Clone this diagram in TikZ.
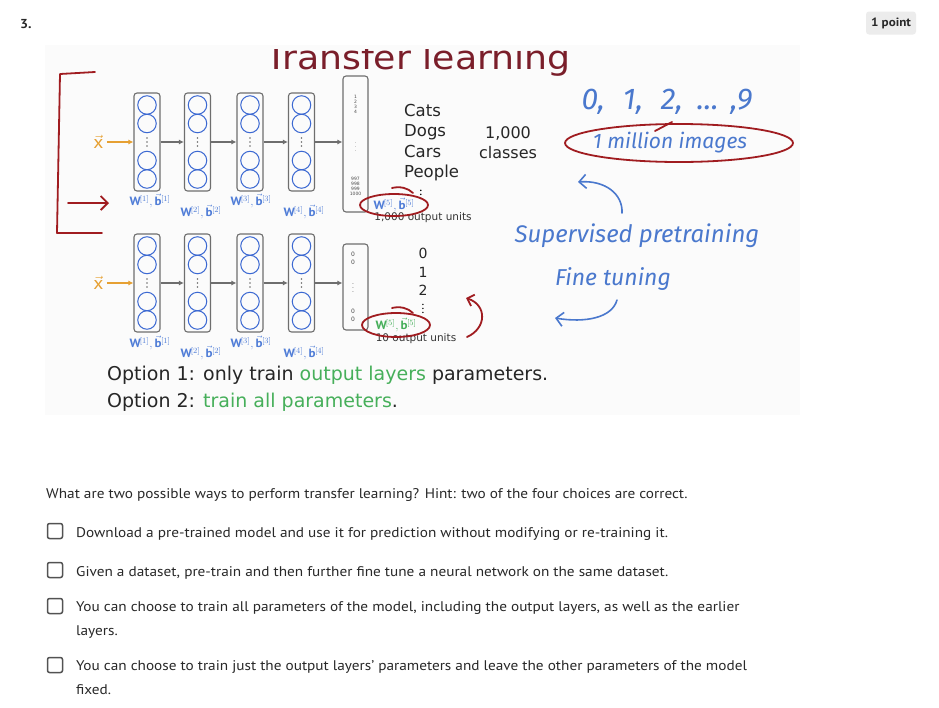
\documentclass[tikz,border=0pt]{standalone}
\usepackage{fontspec}
\setmainfont[FakeStretch=1.09]{PT Sans}
\newfontfamily\slidefont{DejaVu Sans}
\newfontfamily\titlefont[FakeStretch=1.1]{DejaVu Sans}
\newfontfamily\handfont{Fira Sans}
\usetikzlibrary{arrows.meta,positioning}

\definecolor{inkred}{RGB}{160,28,32}
\definecolor{titlered}{RGB}{122,30,42}
\definecolor{handblue}{RGB}{74,120,205}
\definecolor{wblue}{RGB}{80,125,215}
\definecolor{nodeblue}{RGB}{60,105,210}
\definecolor{xorange}{RGB}{230,160,50}
\definecolor{slidegreen}{RGB}{70,175,90}
\definecolor{boxgray}{RGB}{110,110,110}
\definecolor{slidebg}{RGB}{251,251,251}
\definecolor{quizgray}{RGB}{40,40,40}

\tikzset{
  layer/.style={draw=boxgray, line width=1.1pt, rounded corners=3pt, minimum width=26pt, minimum height=98pt, inner sep=0pt},
  outbox/.style={draw=boxgray, line width=1.1pt, rounded corners=3pt, minimum width=25pt, inner sep=0pt},
  neuron/.style={draw=nodeblue, line width=1pt, circle, minimum size=18.5pt, inner sep=0pt},
  wlabel/.style={text=wblue, font=\fontsize{12}{13}\selectfont, inner sep=0pt},
  tinynum/.style={font=\slidefont\fontsize{4.5}{5}\selectfont, align=center, text=black!70, inner sep=0pt},
  ink/.style={draw=inkred, line width=1.8pt, line cap=round, line join=round},
  handarrow/.style={draw=handblue, line width=1.6pt, line cap=round, -{Straight Barb[length=7pt,width=14pt]}},
  flow/.style={-{Latex[length=5pt,width=5pt]}, line width=1.3pt, draw=boxgray},
  xflow/.style={-{Latex[length=5pt,width=5pt]}, line width=1.5pt, draw=xorange},
  handtext/.style={text=handblue, font=\handfont\itshape\fontsize{#1}{#1}\selectfont, inner sep=0pt},
  checkbox/.style={draw=quizgray!80, line width=1.5pt, rounded corners=2pt, minimum size=15pt, inner sep=0pt},
  answer/.style={anchor=north west, font=\fontsize{14}{24.5}\selectfont, text=quizgray, align=left, inner sep=0pt}
}

\begin{document}
\begin{tikzpicture}[x=1pt, y=-1pt]
\useasboundingbox (0,0) rectangle (939,707);
\fill[white] (0,0) rectangle (939,707);

\node[anchor=base west, font=\bfseries\fontsize{13}{13}\selectfont, text=quizgray, inner sep=0pt] (qnum) at (20,28) {3.};
\node[fill=gray!15, rounded corners=3pt, minimum width=50pt, minimum height=23pt, inner sep=0pt,
      font=\bfseries\fontsize{12}{12}\selectfont, text=quizgray] (pts) at (891,23) {1 point};

% slide picture
\fill[slidebg] (45,45) rectangle (800,415);
\begin{scope}
\clip (45,49) rectangle (800,415);
\node[anchor=base, text=titlered, font=\titlefont\fontsize{33}{33}\selectfont, inner sep=0pt] (title) at (418,69) {Transfer learning};
\end{scope}

% two networks
\foreach \r/\y/\yo/\ho in {t/142/144/136, b/283/287/86} {
  \foreach \n/\x in {1/147,2/197.5,3/250,4/301.5} {
    \node[layer] (\r\n) at (\x,\y) {};
    \foreach \k/\dy in {1/-37,2/-18.5,3/18.5,4/37}
      \node[neuron] (\r\n c\k) at (\x,\y+\dy) {};
    \foreach \d in {-4,0,4}
      \fill[boxgray] (\x,\y+\d) circle (0.8);
  }
  \node[outbox, minimum height=\ho pt] (\r5) at (355.5,\yo) {};
  \node[text=xorange, font=\fontsize{18}{18}\selectfont, inner sep=0pt] (\r x) at (98,\y) {$\vec{\mathrm{x}}$};
  \draw[xflow] (\r x.east) ++(4,0) -- (\r1.west);
  \draw[flow] (\r1.east) -- (\r2.west);
  \draw[flow] (\r2.east) -- (\r3.west);
  \draw[flow] (\r3.east) -- (\r4.west);
  \draw[flow] (\r4.east) -- (\r5.west |- \r4.east);
}

% output units
\node[tinynum] (t5a) at (355.5,104) {1\\2\\3\\4};
\node[tinynum] (t5b) at (355.5,144) {$\vdots$};
\node[tinynum] (t5c) at (355.5,186) {997\\998\\999\\1000};
\node[tinynum, font=\slidefont\fontsize{6}{8}\selectfont] (b5a) at (353,258) {0\\0};
\node[tinynum, font=\slidefont\fontsize{6}{8}\selectfont] (b5b) at (353,285) {$\vdots$};
\node[tinynum, font=\slidefont\fontsize{6}{8}\selectfont] (b5c) at (353,315) {0\\0};

% parameter labels
\foreach \r/\ya/\yb in {t/201/212, b/343/353} {
  \node[wlabel] (\r w1) at (150,\ya) {$\mathbf{W}^{[1]},\vec{\mathbf{b}}^{[1]}$};
  \node[wlabel] (\r w2) at (201,\yb) {$\mathbf{W}^{[2]},\vec{\mathbf{b}}^{[2]}$};
  \node[wlabel] (\r w3) at (251,\ya) {$\mathbf{W}^{[3]},\vec{\mathbf{b}}^{[3]}$};
  \node[wlabel] (\r w4) at (304,\yb) {$\mathbf{W}^{[4]},\vec{\mathbf{b}}^{[4]}$};
}
\node[wlabel] (tw5) at (394,205) {$\mathbf{W}^{[5]},\vec{\mathbf{b}}^{[5]}$};
\node[wlabel, text=slidegreen] (bw5) at (396,325) {$\mathbf{W}^{[5]},\vec{\mathbf{b}}^{[5]}$};

\node[font=\slidefont\fontsize{10.5}{10.5}\selectfont, text=black!80, inner sep=0pt] (tunits) at (423,218) {1,000 output units};
\node[font=\slidefont\fontsize{10.5}{10.5}\selectfont, text=black!80, inner sep=0pt] (bunits) at (416,339) {10 output units};

% classes
\node[anchor=north west, align=left, font=\slidefont\fontsize{16.5}{20.5}\selectfont, text=black!85, inner sep=0pt] (cls) at (404,104) {Cats\\Dogs\\Cars\\People};
\node[font=\fontsize{13}{13}\selectfont, inner sep=0pt] (clsdots) at (421,192) {$\vdots$};
\node[align=center, font=\slidefont\fontsize{16}{20}\selectfont, text=black!85, inner sep=0pt] (ncls) at (508,143) {1,000\\classes};
\node[align=center, font=\slidefont\fontsize{14}{18.5}\selectfont, text=black!85, inner sep=0pt] (digits) at (423,272) {0\\1\\2};
\node[font=\fontsize{12}{12}\selectfont, inner sep=0pt] (digdots) at (423,306) {$\vdots$};

% handwriting
\node[handtext=30] (range) at (667,102) {0,\hspace{18pt}1,\hspace{18pt}2,\hspace{14pt}...\hspace{12pt},9};
\node[handtext=21] (million) at (670,143) {1 million images};
\node[handtext=24] (sup) at (637,236) {Supervised pretraining};
\node[handtext=23] (fine) at (613,279) {Fine tuning};

\coordinate (a1s) at (622,213);
\coordinate (a1e) at (578,182);
\coordinate (a2s) at (617,300);
\coordinate (a2e) at (555,318);
\draw[handarrow] (a1s) .. controls (623,194) and (605,180) .. (a1e);
\draw[handarrow] (a2s) .. controls (612,318) and (585,323) .. (a2e);

% red ink
\draw[ink] (95,72) -- (60,74) -- (57,233) -- (102,233);
\coordinate (r1s) at (68,203);
\coordinate (r1e) at (109,203);
\draw[ink, -{Straight Barb[length=7pt,width=14pt]}] (r1s) -- (r1e);
\draw[ink] (tw5) ellipse (34 and 11);
\draw[ink] (392,188) .. controls (400,186) and (408,188) .. (413,193);
\draw[ink] (bw5) ellipse (34 and 12);
\draw[ink] (392,308) .. controls (400,306) and (408,308) .. (413,313);
\coordinate (mc) at (679,143);
\draw[ink] (mc) ellipse (114 and 19);
\draw[ink] (655,131) -- (672,122);
\coordinate (r2s) at (467,337);
\coordinate (r2e) at (466,298);
\draw[ink, -{Straight Barb[length=6pt,width=12pt]}] (r2s) .. controls (487,328) and (487,305) .. (r2e);

% options
\node[anchor=base west, font=\slidefont\fontsize{19}{19}\selectfont, text=black!85, inner sep=0pt] (opt1) at (107,380)
  {Option 1: only train \textcolor{slidegreen}{output layers} parameters.};
\node[anchor=base west, font=\slidefont\fontsize{19}{19}\selectfont, text=black!85, inner sep=0pt] (opt2) at (107,407)
  {Option 2: \textcolor{slidegreen}{train all parameters}.};

% question
\node[anchor=north west, font=\fontsize{14}{14}\selectfont, text=quizgray, inner sep=0pt] (quest) at (46,488)
  {What are two possible ways to perform transfer learning? Hint: two of the four choices are correct.};
\foreach \i/\y in {1/531, 2/570, 3/606, 4/665}
  \node[checkbox] (cb\i) at (55,\y) {};
\node[answer] (ans1) at (76,527) {Download a pre-trained model and use it for prediction without modifying or re-training it.};
\node[answer] (ans2) at (76,566) {Given a dataset, pre-train and then further fine tune a neural network on the same dataset.};
\node[answer] (ans3) at (76,601) {You can choose to train all parameters of the model, including the output layers, as well as the earlier\\layers.};
\node[answer] (ans4) at (76,660) {You can choose to train just the output layers' parameters and leave the other parameters of the model\\fixed.};
\end{tikzpicture}
\end{document}
